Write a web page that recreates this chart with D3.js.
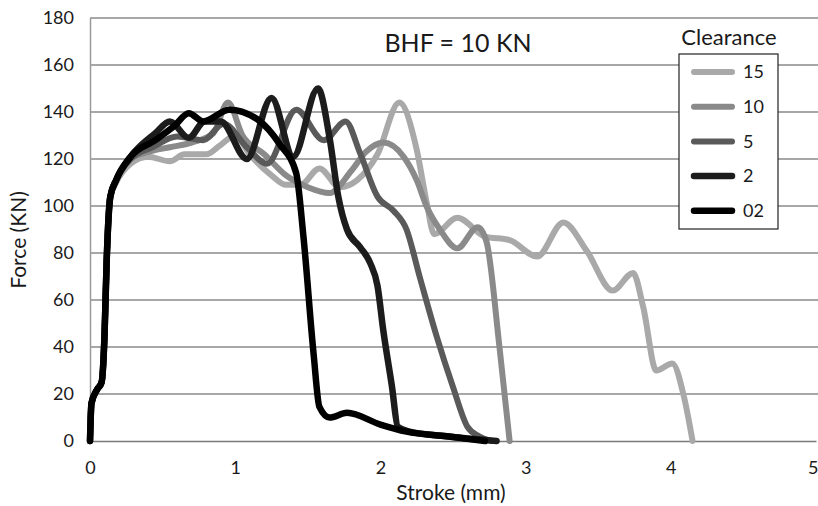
<!DOCTYPE html>
<html>
<head>
<meta charset="utf-8">
<script src="https://cdn.jsdelivr.net/npm/d3@7"></script>
<style>
  body { margin: 0; background: #fff; }
  text { font-family: Lato, "Open Sans", sans-serif; fill: #1a1a1a; }
</style>
</head>
<body>
<script>
// series values (stroke in mm, force in KN)
var clearances = ["15", "10", "5", "2", "02"]
var colors = ["#a9a9a9", "#8a8a8a", "#5a5a5a", "#1c1c1c", "#000000"]

var stroke15 = [0,0.01,0.05,0.08,0.1,0.115,0.14,0.18,0.28,0.4,0.55,0.65,0.8,0.9,1.0,1.1,1.25,1.35,1.45,1.58,1.72,1.84,1.98,2.13,2.25,2.32,2.37,2.53,2.72,2.89,3.08,3.26,3.42,3.6,3.74,3.81,3.9,4.01,4.09,4.15]
var force15  = [0,16,22,25,45,77,104,110,118,121,119,122,122,126,130,122,113,109,109,116,108,111,122,144,124,101,88,95,87,85.5,78.5,93,81,64,71.5,57,30,33,19,0]

var stroke10 = [0,0.01,0.05,0.08,0.1,0.115,0.14,0.18,0.28,0.4,0.55,0.7,0.85,0.95,1.05,1.2,1.35,1.5,1.65,1.8,1.9,2.02,2.16,2.25,2.32,2.41,2.53,2.67,2.73,2.82,2.89]
var force10  = [0,16,22,25,45,77,104,111,120,123,125,127,131,144,130,122,113,108,105.5,115,123,127,121,111,99.6,90,82,91,85,40,0]

var stroke5 = [0,0.01,0.05,0.08,0.1,0.115,0.14,0.18,0.28,0.43,0.6,0.78,0.92,1.08,1.22,1.42,1.61,1.76,1.86,1.98,2.09,2.18,2.27,2.39,2.5,2.6,2.68,2.76]
var force5  = [0,16,22,25,45,77,104,111,120,125,129.6,128,135,125,118,141,128,136,122.5,104,98,90,70,44,23,6,2,0]

var stroke2 = [0,0.01,0.05,0.08,0.1,0.115,0.14,0.18,0.28,0.45,0.55,0.68,0.79,0.9,1.08,1.25,1.4,1.57,1.65,1.71,1.77,1.86,1.93,1.98,2.02,2.08,2.12,2.2,2.45,2.8]
var force2  = [0,16,22,25,45,77,104,111,121,131,136,129,136,136,120,146,121,150,129,104,90,82.5,75.7,66,47,23,6,4,2,0]

var stroke02 = [0,0.01,0.05,0.08,0.1,0.115,0.14,0.18,0.28,0.45,0.58,0.68,0.78,0.96,1.15,1.31,1.42,1.47,1.54,1.58,1.65,1.77,2.0,2.18,2.46,2.72]
var force02  = [0,16,22,25,45,77,104,111,121,128,134,139.5,136,141,137,126,114,87,37,14.5,10,12,7,4,2,0]

var xTicks = [0, 1, 2, 3, 4, 5]
var yTicks = [0, 20, 40, 60, 80, 100, 120, 140, 160, 180]

var strokes = [stroke15, stroke10, stroke5, stroke2, stroke02]
var forces = [force15, force10, force5, force2, force02]

var width = 818, height = 506
var margin = {top: 18, right: 2, bottom: 65, left: 90}

var svg = d3.select("body").append("svg")
    .attr("width", width)
    .attr("height", height)

svg.append("rect").attr("width", width).attr("height", height).attr("fill", "#fff")

var x = d3.scaleLinear().domain([0, 5]).range([margin.left, 816])
var y = d3.scaleLinear().domain([0, 180]).range([441, margin.top])

// gridlines
svg.append("g")
  .selectAll("line")
  .data(yTicks.slice(1))
  .enter().append("line")
    .attr("x1", margin.left)
    .attr("x2", width)
    .attr("y1", function(d) { return y(d) })
    .attr("y2", function(d) { return y(d) })
    .attr("stroke", "#8a8a8a")
    .attr("stroke-width", 1.3)

// Eixo Y
var yAxis = svg.append("g")
    .attr("transform", "translate(" + margin.left + ",0)")
    .call(d3.axisLeft(y).tickValues(yTicks).tickSize(0).tickPadding(16))
yAxis.select(".domain").attr("stroke", "#9a9a9a").attr("stroke-width", 1.5)
yAxis.selectAll("text").style("font-size", "18px").attr("fill", "#1a1a1a")

// Eixo X
var xAxis = svg.append("g")
    .attr("transform", "translate(0," + y(0) + ")")
    .call(d3.axisBottom(x).tickValues(xTicks).tickFormat(d3.format("d")).tickSize(0).tickPadding(20))
xAxis.select(".domain").attr("stroke", "#7a7a7a").attr("stroke-width", 1.5)
xAxis.selectAll("text").style("font-size", "18px").attr("fill", "#1a1a1a")
// last label sits on the right edge, keep it inside
xAxis.selectAll(".tick").filter(function(d) { return d === 5 })
    .select("text").attr("text-anchor", "end").attr("x", 2)

var line = d3.line()
    .x(function(d) { return x(d[0]) })
    .y(function(d) { return y(d[1]) })
    .curve(d3.curveMonotoneX)

clearances.forEach(function(c, i) {
  var pts = strokes[i].map(function(s, j) { return [s, forces[i][j]] })
  svg.append("path")
    .attr("fill", "none")
    .attr("stroke", colors[i])
    .attr("stroke-width", i > 2 ? 6.5 : 6)
    .attr("stroke-linejoin", "round")
    .attr("stroke-linecap", "round")
    .attr("d", line(pts))
})

// titulo
svg.append("text")
    .attr("x", 458).attr("y", 52)
    .attr("text-anchor", "middle")
    .style("font-size", "25px")
    .text("BHF = 10 KN")

// legenda
svg.append("text")
    .attr("x", 729).attr("y", 45)
    .attr("text-anchor", "middle")
    .style("font-size", "22px")
    .text("Clearance")

svg.append("rect")
    .attr("x", 679).attr("y", 54)
    .attr("width", 99).attr("height", 175)
    .attr("fill", "#fff")
    .attr("stroke", "#222")
    .attr("stroke-width", 1.2)

var leg = svg.append("g")
  .selectAll("g")
  .data(clearances)
  .enter().append("g")
    .attr("transform", function(d, i) { return "translate(0," + (72 + i * 34.7) + ")" })

leg.append("line")
    .attr("x1", 694).attr("x2", 732)
    .attr("stroke", function(d, i) { return colors[i] })
    .attr("stroke-width", function(d, i) { return i > 2 ? 6.5 : 6 })
    .attr("stroke-linecap", "round")

leg.append("text")
    .attr("x", 743).attr("dy", "0.35em")
    .style("font-size", "18px")
    .text(function(d) { return d })

// eixos titulos
svg.append("text")
    .attr("transform", "translate(26,240) rotate(-90)")
    .attr("text-anchor", "middle")
    .style("font-size", "21px")
    .text("Force (KN)")

svg.append("text")
    .attr("x", 451).attr("y", 500)
    .attr("text-anchor", "middle")
    .style("font-size", "21px")
    .text("Stroke (mm)")
</script>
</body>
</html>
